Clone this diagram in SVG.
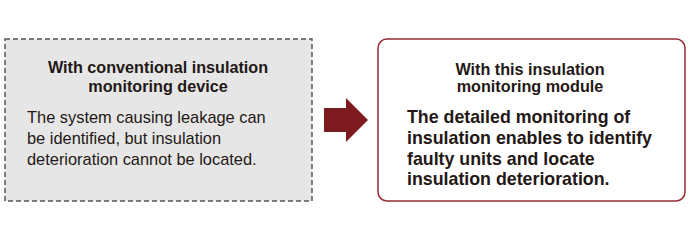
<svg xmlns="http://www.w3.org/2000/svg" width="690" height="240" viewBox="0 0 690 240">
<style>
.t{font-family:"Liberation Sans",Arial,sans-serif;fill:#231815}
.h{font-weight:bold;font-size:16.2px;text-anchor:middle}
.b{font-size:16.4px}
.bb{font-size:17.8px;font-weight:bold}
</style>
<rect width="690" height="240" fill="#ffffff"/>
<g id="conventional">
<rect x="5" y="39" width="307" height="162" fill="#e6e6e6" stroke="#555555" stroke-width="1.5" stroke-dasharray="5,3"/>
<text class="t h" x="158" y="73">With conventional insulation</text>
<text class="t h" x="158" y="92">monitoring device</text>
<text class="t b" x="27" y="123">The system causing leakage can</text>
<text class="t b" x="27" y="144">be identified, but insulation</text>
<text class="t b" x="27" y="165">deterioration cannot be located.</text>
</g>
<g id="connectors">
<path d="M324,108 H346 V98 L368,120 L346,142 V132 H324 Z" fill="#7d1a20"/>
</g>
<g id="module">
<rect x="378" y="39" width="307" height="162" rx="9" ry="9" fill="#ffffff" stroke="#9b2a35" stroke-width="1.5"/>
<text class="t h" x="530" y="75">With this insulation</text>
<text class="t h" x="530" y="92">monitoring module</text>
<text class="t bb" x="407" y="123">The detailed monitoring of</text>
<text class="t bb" x="407" y="144">insulation enables to identify</text>
<text class="t bb" x="407" y="164.5">faulty units and locate</text>
<text class="t bb" x="407" y="185">insulation deterioration.</text>
</g>
</svg>
